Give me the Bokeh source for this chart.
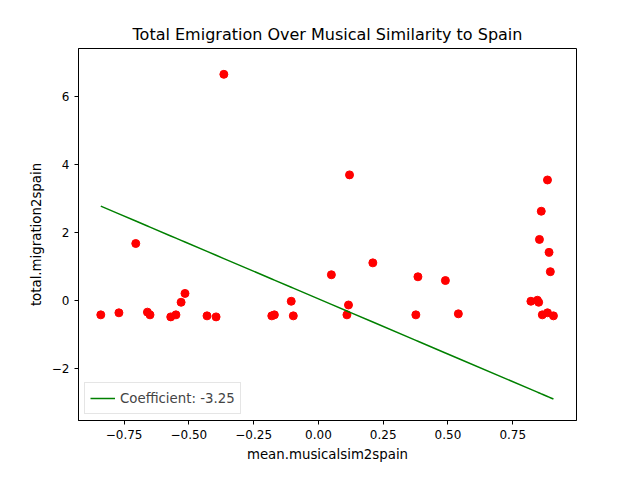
from bokeh.plotting import figure
from bokeh.models import ColumnDataSource, FixedTicker, Legend, LegendItem
from bokeh.embed import file_html
from bokeh.resources import INLINE

musical_sim = [-0.84, -0.77, -0.705, -0.66, -0.65, -0.57, -0.55, -0.53, -0.515,
               -0.43, -0.395, -0.365, -0.18, -0.17, -0.105, -0.097, 0.05, 0.11,
               0.116, 0.12, 0.21, 0.376, 0.384, 0.49, 0.54, 0.82, 0.845, 0.85,
               0.853, 0.86, 0.864, 0.884, 0.884, 0.89, 0.895, 0.907]
migration = [-0.43, -0.37, 1.67, -0.35, -0.43, -0.49, -0.43, -0.06, 0.2,
             -0.46, -0.49, 6.65, -0.46, -0.43, -0.03, -0.46, 0.75, -0.43,
             -0.14, 3.69, 1.1, -0.43, 0.69, 0.58, -0.4, -0.03, 0.0, -0.06,
             1.79, 2.62, -0.43, 3.54, -0.37, 1.41, 0.84, -0.46]
coefficient = -3.25
intercept = 0.04

fit = [coefficient * x + intercept for x in musical_sim]
source = ColumnDataSource(dict(x=musical_sim, y=migration, fit=fit))

p = figure(width=624, height=464, output_backend="svg", toolbar_location=None,
           x_range=(-0.926, 0.996), y_range=(-3.54, 7.41),
           title="Total Emigration Over Musical Similarity to Spain",
           x_axis_label="mean.musicalsim2spain", y_axis_label="total.migration2spain",
           min_border_left=78, min_border_right=48, min_border_top=48, min_border_bottom=32)
p.title.align = "center"
p.title.text_font = "DejaVu Sans"
p.title.text_font_size = "12pt"
p.title.text_font_style = "normal"
p.title.text_color = "black"
p.grid.visible = False
p.outline_line_color = "black"

for ax in (p.xaxis, p.yaxis):
    ax.axis_label_text_font = "DejaVu Sans"
    ax.axis_label_text_font_size = "10pt"
    ax.axis_label_text_font_style = "normal"
    ax.axis_label_text_color = "black"
    ax.major_label_text_font = "DejaVu Sans"
    ax.major_label_text_font_size = "9pt"
    ax.major_label_text_color = "black"
    ax.minor_tick_line_color = None
    ax.major_tick_in = 0
    ax.major_tick_out = 4
p.xaxis.ticker = FixedTicker(ticks=[-0.75, -0.5, -0.25, 0, 0.25, 0.5, 0.75, 1.0])
p.xaxis.major_label_overrides = {-0.75: "−0.75", -0.5: "−0.50", -0.25: "−0.25", 0: "0.00",
                                 0.25: "0.25", 0.5: "0.50", 0.75: "0.75", 1.0: "1.00"}
p.yaxis.ticker = FixedTicker(ticks=[-2, 0, 2, 4, 6])
p.yaxis.major_label_overrides = {-2: "−2"}

p.scatter("x", "y", source=source, size=8, color="red")
ln = p.line("x", "fit", source=source, color="green", line_width=1.5)

legend = Legend(items=[LegendItem(label="Coefficient: %.2f" % coefficient, renderers=[ln])],
                location="bottom_left", label_text_font="DejaVu Sans",
                label_text_font_size="10pt", border_line_color="#cccccc",
                glyph_width=25, margin=6, padding=5, spacing=0)
p.add_layout(legend)

open("out.html", "w").write(file_html(p, INLINE))
